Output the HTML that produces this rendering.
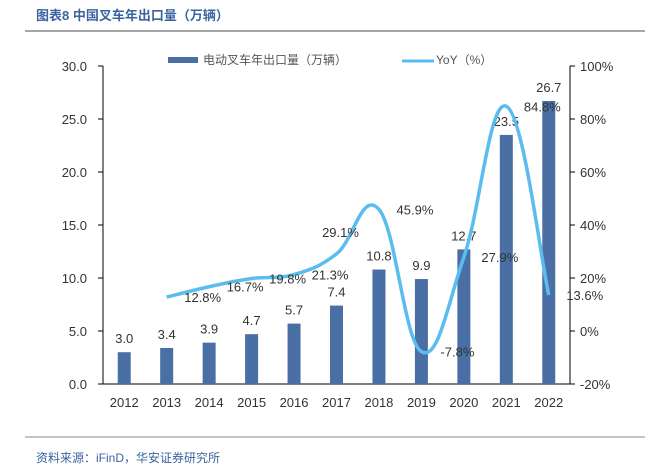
<!DOCTYPE html>
<html><head><meta charset="utf-8">
<style>
body{margin:0;background:#fff;}
svg{display:block;font-family:"Liberation Sans","Noto Sans CJK SC",sans-serif;}
</style></head>
<body>
<svg id="chart" width="663" height="468">
<text x="36" y="20" font-size="13" font-weight="bold" fill="#3A64A0">图表8 中国叉车年出口量（万辆）</text>
<line x1="25" y1="31" x2="645" y2="31" stroke="#888" stroke-width="1.5"/>
<rect x="168" y="57" width="30" height="6" fill="#4A6FA5"/>
<text x="203" y="64" font-size="12" fill="#555">电动叉车年出口量（万辆）</text>
<line x1="402" y1="61" x2="434" y2="61" stroke="#5BBCF0" stroke-width="3"/>
<text x="436" y="64" font-size="12" fill="#555">YoY（%）</text>
<g id="plot"></g>
<line x1="25" y1="437" x2="645" y2="437" stroke="#888" stroke-width="1"/>
<text x="36" y="462" font-size="12" fill="#3A64A0">资料来源：iFinD，华安证券研究所</text>
</svg>
<script>
const years=["2012","2013","2014","2015","2016","2017","2018","2019","2020","2021","2022"];
const exportsVal=[3.0,3.4,3.9,4.7,5.7,7.4,10.8,9.9,12.7,23.5,26.7];
const yoyVal=[null,12.8,16.7,19.8,21.3,29.1,45.9,-7.8,27.9,84.8,13.6];
const leftTicks=[0,5,10,15,20,25,30];
const rightTicks=[-20,0,20,40,60,80,100];
const NS="http://www.w3.org/2000/svg";
const X0=103,X1=570,Y0=384,Y1=66;
const step=(X1-X0)/years.length;
const xc=i=>X0+step*(i+0.5);
const yL=v=>Y0-(v/30)*(Y0-Y1);
const yR=v=>Y0-((v+20)/120)*(Y0-Y1);
const g=document.getElementById('plot');
function mk(tag,a,txt){const e=document.createElementNS(NS,tag);for(const k in a)e.setAttribute(k,a[k]);if(txt!=null)e.textContent=txt;g.appendChild(e);return e;}
let e;
e=mk('line',{x1:X0,y1:Y1,x2:X0,y2:Y0,stroke:'#000'});


e=mk('line',{x1:X1,y1:Y1,x2:X1,y2:Y0,stroke:'#000'});


e=mk('line',{x1:X0-5,y1:Y0,x2:X1+5,y2:Y0,stroke:'#000'});


leftTicks.forEach(v=>{
 mk('line',{x1:X0-5,y1:yL(v),x2:X0,y2:yL(v),stroke:'#000'});
 e=mk('text',{x:X0-16,y:yL(v)+5,'font-size':13,fill:'#333','text-anchor':'end'},v.toFixed(1));
 
 
});
rightTicks.forEach(v=>{
 mk('line',{x1:X1,y1:yR(v),x2:X1+5,y2:yR(v),stroke:'#000'});
 e=mk('text',{x:X1+10,y:yR(v)+5,'font-size':13,fill:'#333'},v+'%');
 
 
});
years.forEach((y,i)=>{
 e=mk('text',{x:xc(i),y:Y0+23,'font-size':13,fill:'#333','text-anchor':'middle'},y);
 
 
 const v=exportsVal[i];
 e=mk('rect',{x:xc(i)-6.5,y:yL(v),width:13,height:Y0-yL(v),fill:'#4A6FA5'});
 
 
 e=mk('text',{x:xc(i),y:yL(v)-9,'font-size':13,fill:'#333','text-anchor':'middle'},v.toFixed(1));
 
 
});
const pts=[];yoyVal.forEach((v,i)=>{if(v!=null)pts.push([xc(i),yR(v)]);});
let d='M'+pts[0][0]+','+pts[0][1];
for(let i=0;i<pts.length-1;i++){
 const p0=pts[i-1]||pts[i],p1=pts[i],p2=pts[i+1],p3=pts[i+2]||p2;
 const t=0.2;
 const c1=[p1[0]+(p2[0]-p0[0])*t,p1[1]+(p2[1]-p0[1])*t];
 const c2=[p2[0]-(p3[0]-p1[0])*t,p2[1]-(p3[1]-p1[1])*t];
 d+=' C'+c1+' '+c2+' '+p2;
}
e=mk('path',{d:d,fill:'none',stroke:'#5BBCF0','stroke-width':3.5,'stroke-linejoin':'round'});


yoyVal.forEach((v,i)=>{
 if(v==null)return;
 let dx=36,dy=5;
 if(i===5){dx=4;dy=-17;}
 e=mk('text',{x:xc(i)+dx,y:yR(v)+dy,'font-size':13,fill:'#333','text-anchor':'middle'},v.toFixed(1)+'%');
 
 
});
</script>
</body></html>
